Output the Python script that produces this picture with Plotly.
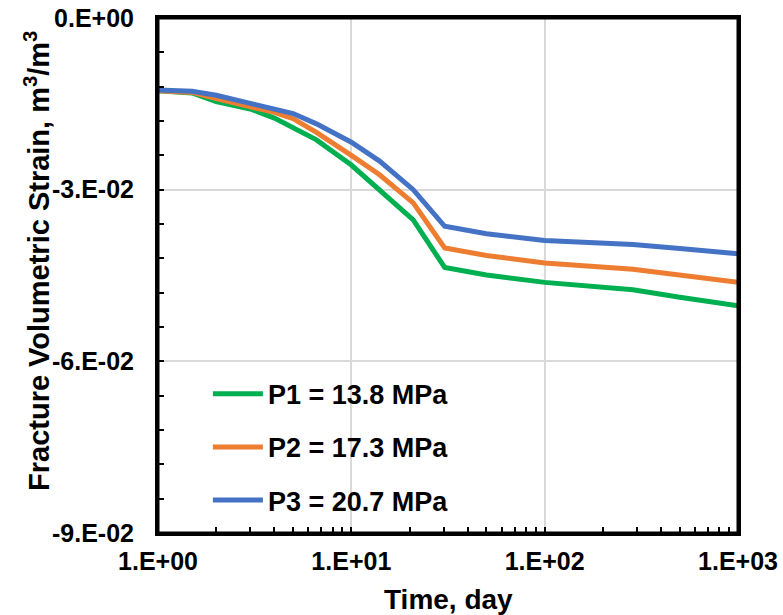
import plotly.graph_objects as go

time_day = [1, 1.5, 2, 3, 4, 5, 6.6, 10, 14, 20.9, 30.4, 50, 100, 286, 500, 1000]
p1_strain = [-0.0127, -0.0131, -0.0146, -0.0159, -0.0175, -0.0192, -0.0213, -0.0257, -0.0302, -0.0353, -0.0436,
             -0.0449, -0.0462, -0.0475, -0.0488, -0.0503]
p2_strain = [-0.0127, -0.0130, -0.0141, -0.0155, -0.0165, -0.0176, -0.0200, -0.0240, -0.0274, -0.0323, -0.0402,
             -0.0415, -0.0428, -0.0439, -0.0450, -0.0462]
p3_strain = [-0.0126, -0.0128, -0.0135, -0.0149, -0.0158, -0.0167, -0.0185, -0.0217, -0.0250, -0.0300, -0.0364,
             -0.0377, -0.0389, -0.0396, -0.0403, -0.0412]
series_names = ["P1 = 13.8 MPa", "P2 = 17.3 MPa", "P3 = 20.7 MPa"]
series_colors = ["#00B050", "#ED7D31", "#4472C4"]

x_tickvals = [1, 10, 100, 1000]
x_ticktext = ["1.E+00", "1.E+01", "1.E+02", "1.E+03"]
y_tickvals = [0, -0.03, -0.06, -0.09]
y_ticktext = ["0.E+00", "-3.E-02", "-6.E-02", "-9.E-02"]
x_title = "Time, day"
y_title = "Fracture Volumetric Strain, m<sup>3</sup>/m<sup>3</sup>"

FONT = "Liberation Sans, Arial, sans-serif"
W, H = 783, 615
M_L, M_R, M_T, M_B = 158, 45, 18, 82
PLOT_H = H - M_T - M_B

fig = go.Figure()
for name, ys, col in zip(series_names, [p1_strain, p2_strain, p3_strain], series_colors):
    fig.add_trace(go.Scatter(x=time_day, y=ys, mode="lines", name=name, legendgroup=name,
                             line=dict(color=col, width=5)))

fig.update_layout(
    width=W, height=H,
    margin=dict(l=M_L, r=M_R, t=M_T, b=M_B, autoexpand=False),
    paper_bgcolor="white", plot_bgcolor="white",
    font=dict(family=FONT, color="black"),
    showlegend=True,
    legend=dict(x=0.086, y=0.317, xanchor="left", yanchor="top",
                font=dict(family=FONT, size=27, color="black", weight="bold"),
                bgcolor="rgba(0,0,0,0)", tracegroupgap=15, itemwidth=50),
    shapes=[dict(type="rect", xref="paper", yref="paper", x0=0, x1=1, y0=0, y1=1,
                 line=dict(color="black", width=3), layer="above")],
    annotations=[
        dict(text=x_title, xref="paper", yref="paper", x=0.5, y=0, yshift=-66,
             xanchor="center", yanchor="middle", showarrow=False,
             font=dict(family=FONT, size=28, color="black", weight="bold")),
        dict(text=y_title, xref="paper", yref="paper", x=0, y=(PLOT_H - 243) / PLOT_H, xshift=-121,
             xanchor="center", yanchor="middle", textangle=-90, showarrow=False,
             font=dict(family=FONT, size=29, color="black", weight="bold")),
    ],
)
fig.update_xaxes(
    type="log", range=[0, 3], automargin=False,
    tickvals=x_tickvals, ticktext=x_ticktext,
    tickfont=dict(family=FONT, size=25, color="black", weight="bold"),
    ticks="inside", ticklen=6, tickwidth=2, tickcolor="black",
    minor=dict(ticks="inside", ticklen=6, tickwidth=2, tickcolor="black", dtick="D1", showgrid=False),
    showline=True, linecolor="black", linewidth=3, mirror=True,
    showgrid=True, gridcolor="#d9d9d9", gridwidth=2,
    ticklabelstandoff=4, ticklabeloverflow="allow",
    zeroline=False,
)
fig.update_yaxes(
    range=[-0.09, 0], automargin=False,
    tickvals=y_tickvals, ticktext=y_ticktext,
    tickfont=dict(family=FONT, size=25, color="black", weight="bold"),
    ticks="inside", ticklen=6, tickwidth=2, tickcolor="black",
    minor=dict(ticks="inside", ticklen=6, tickwidth=2, tickcolor="black", dtick=0.006, showgrid=False),
    showline=True, linecolor="black", linewidth=3, mirror=True,
    showgrid=True, gridcolor="#d9d9d9", gridwidth=2,
    ticklabelstandoff=16, ticklabeloverflow="allow",
    zeroline=False,
)

# remove the browser's default 8px page margin so the figure fills the window exactly
fig.write_html("out.html", config={"displayModeBar": False},
               post_script="document.body.style.margin='0';")
